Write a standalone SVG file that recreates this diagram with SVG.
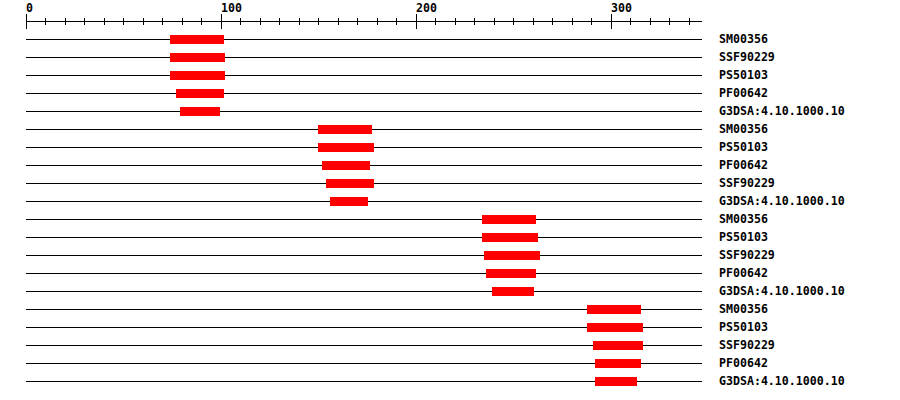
<svg xmlns="http://www.w3.org/2000/svg" width="900" height="400" viewBox="0 0 900 400">
<style>
.ln{stroke:#000;stroke-width:1;fill:none;shape-rendering:crispEdges}
.bar{fill:#ff0000;shape-rendering:crispEdges}
.t{font-family:"DejaVu Sans Mono","Liberation Mono",monospace;font-weight:bold;font-size:11.6px;fill:#000}
</style>
<rect width="900" height="400" fill="#fff"/>
<g id="axis">
<path class="ln" d="M26 21.5H702M26.5 14V29M221.5 14V29M416.5 14V29M611.5 14V29M45.5 18V25M65.5 18V25M84.5 18V25M104.5 18V25M123.5 18V25M143.5 18V25M162.5 18V25M182.5 18V25M201.5 18V25M240.5 18V25M260.5 18V25M279.5 18V25M299.5 18V25M318.5 18V25M338.5 18V25M357.5 18V25M377.5 18V25M396.5 18V25M435.5 18V25M455.5 18V25M474.5 18V25M494.5 18V25M513.5 18V25M533.5 18V25M552.5 18V25M572.5 18V25M591.5 18V25M630.5 18V25M650.5 18V25M669.5 18V25M689.5 18V25"/>
<text class="t" x="26" y="12">0</text>
<text class="t" x="221" y="12">100</text>
<text class="t" x="416" y="12">200</text>
<text class="t" x="611" y="12">300</text>
</g>
<g id="connectors">
<path class="ln" d="M26 39.5H702M26 57.5H702M26 75.5H702M26 93.5H702M26 111.5H702M26 129.5H702M26 147.5H702M26 165.5H702M26 183.5H702M26 201.5H702M26 219.5H702M26 237.5H702M26 255.5H702M26 273.5H702M26 291.5H702M26 309.5H702M26 327.5H702M26 345.5H702M26 363.5H702M26 381.5H702"/>
</g>
<g id="track1"><rect class="bar" x="170" y="35" width="54" height="9"/><text class="t" x="719" y="43">SM00356</text></g>
<g id="track2"><rect class="bar" x="170" y="53" width="55" height="9"/><text class="t" x="719" y="61">SSF90229</text></g>
<g id="track3"><rect class="bar" x="170" y="71" width="55" height="9"/><text class="t" x="719" y="79">PS50103</text></g>
<g id="track4"><rect class="bar" x="176" y="89" width="48" height="9"/><text class="t" x="719" y="97">PF00642</text></g>
<g id="track5"><rect class="bar" x="180" y="107" width="40" height="9"/><text class="t" x="719" y="115">G3DSA:4.10.1000.10</text></g>
<g id="track6"><rect class="bar" x="318" y="125" width="54" height="9"/><text class="t" x="719" y="133">SM00356</text></g>
<g id="track7"><rect class="bar" x="318" y="143" width="56" height="9"/><text class="t" x="719" y="151">PS50103</text></g>
<g id="track8"><rect class="bar" x="322" y="161" width="48" height="9"/><text class="t" x="719" y="169">PF00642</text></g>
<g id="track9"><rect class="bar" x="326" y="179" width="48" height="9"/><text class="t" x="719" y="187">SSF90229</text></g>
<g id="track10"><rect class="bar" x="330" y="197" width="38" height="9"/><text class="t" x="719" y="205">G3DSA:4.10.1000.10</text></g>
<g id="track11"><rect class="bar" x="482" y="215" width="54" height="9"/><text class="t" x="719" y="223">SM00356</text></g>
<g id="track12"><rect class="bar" x="482" y="233" width="56" height="9"/><text class="t" x="719" y="241">PS50103</text></g>
<g id="track13"><rect class="bar" x="484" y="251" width="56" height="9"/><text class="t" x="719" y="259">SSF90229</text></g>
<g id="track14"><rect class="bar" x="486" y="269" width="50" height="9"/><text class="t" x="719" y="277">PF00642</text></g>
<g id="track15"><rect class="bar" x="492" y="287" width="42" height="9"/><text class="t" x="719" y="295">G3DSA:4.10.1000.10</text></g>
<g id="track16"><rect class="bar" x="587" y="305" width="54" height="9"/><text class="t" x="719" y="313">SM00356</text></g>
<g id="track17"><rect class="bar" x="587" y="323" width="56" height="9"/><text class="t" x="719" y="331">PS50103</text></g>
<g id="track18"><rect class="bar" x="593" y="341" width="50" height="9"/><text class="t" x="719" y="349">SSF90229</text></g>
<g id="track19"><rect class="bar" x="595" y="359" width="46" height="9"/><text class="t" x="719" y="367">PF00642</text></g>
<g id="track20"><rect class="bar" x="595" y="377" width="42" height="9"/><text class="t" x="719" y="385">G3DSA:4.10.1000.10</text></g>
</svg>
